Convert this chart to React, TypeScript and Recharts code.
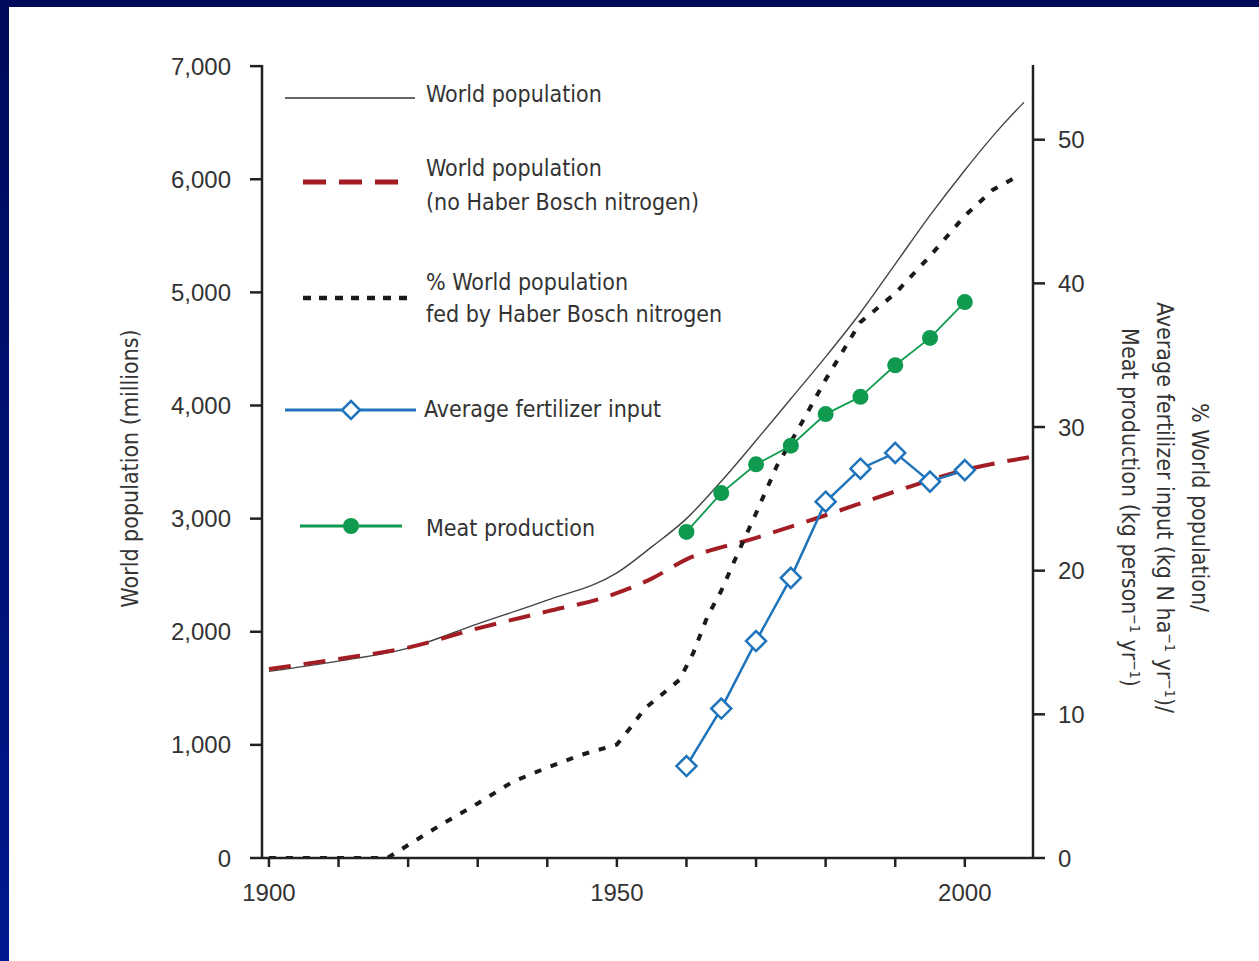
import React from "react";
import { Legend, Line, LineChart, XAxis, YAxis } from "recharts";

// world population, millions (left axis)
const popYears = [1900, 1910, 1920, 1930, 1940, 1950, 1955, 1960, 1965, 1970, 1975, 1980, 1985, 1990, 1995, 2000, 2005, 2008.5];
const popValues = [1650, 1740, 1855, 2070, 2280, 2520, 2750, 3000, 3330, 3690, 4060, 4430, 4820, 5250, 5680, 6080, 6450, 6680];

// world population without Haber Bosch nitrogen, millions (left axis)
const noHbYears = [1900, 1910, 1920, 1930, 1940, 1948, 1955, 1960, 1970, 1980, 1990, 2000, 2009.5];
const noHbValues = [1670, 1760, 1860, 2030, 2180, 2300, 2470, 2640, 2830, 3030, 3240, 3430, 3545];

// % world population fed by Haber Bosch nitrogen (right axis)
const fedYears = [1900, 1917, 1920, 1925, 1930, 1935, 1940, 1945, 1950, 1952, 1954, 1956, 1959, 1961, 1963, 1965, 1967, 1970, 1973, 1976, 1980, 1985, 1990, 1995, 2000, 2004, 2007];
const fedValues = [0, 0, 0.9, 2.4, 3.8, 5.3, 6.3, 7.2, 7.9, 9.1, 10.4, 11.2, 12.4, 14.3, 16.8, 18.6, 20.8, 24.0, 27.3, 29.8, 33.3, 37.3, 39.3, 41.9, 44.7, 46.5, 47.3];

// average fertilizer input, kg N / ha / yr (right axis)
const fertYears = [1960, 1965, 1970, 1975, 1980, 1985, 1990, 1995, 2000];
const fertValues = [6.4, 10.4, 15.1, 19.5, 24.8, 27.1, 28.2, 26.2, 27.0];

// meat production, kg / person / yr (right axis)
const meatYears = [1960, 1965, 1970, 1975, 1980, 1985, 1990, 1995, 2000];
const meatValues = [22.7, 25.4, 27.4, 28.7, 30.9, 32.1, 34.3, 36.2, 38.7];

const xTicks = [1900, 1910, 1920, 1930, 1940, 1950, 1960, 1970, 1980, 1990, 2000];
const leftTicks = [0, 1000, 2000, 3000, 4000, 5000, 6000, 7000];
const rightTicks = [0, 10, 20, 30, 40, 50];

const toRows = (years: number[], values: number[]) =>
  years.map((year, i) => ({ year, v: values[i] }));

const TICK_FONT = "'Liberation Sans', Arial, Helvetica, sans-serif";
const TEXT_FONT = "'DejaVu Sans Condensed', 'Liberation Sans', sans-serif";
const TEXT_SIZE = 23;
const INK = "#333";
const AXIS = "#222";
const RED = "#a31d25";
const BLUE = "#1f74bb";
const GREEN = "#0f9a50";

const Diamond = (props: any) => {
  const { cx, cy } = props;
  if (cx == null || cy == null) return null;
  const r = 10;
  return (
    <path
      d={`M${cx},${cy - r}L${cx + r},${cy}L${cx},${cy + r}L${cx - r},${cy}Z`}
      fill="#fff"
      stroke={BLUE}
      strokeWidth={2.5}
    />
  );
};

const LeftTitle = (props: any) => {
  const vb = props.viewBox || {};
  const cx = vb.x + 28;
  const cy = vb.y + vb.height / 2 + 7;
  return (
    <text
      x={cx}
      y={cy}
      dy="0.35em"
      textAnchor="middle"
      transform={`rotate(-90 ${cx} ${cy})`}
      fontFamily={TEXT_FONT}
      fontSize={TEXT_SIZE}
      fill={INK}
    >
      World population (millions)
    </text>
  );
};

const RightTitle = (props: any) => {
  const vb = props.viewBox || {};
  const cx = vb.x + 132;
  const cy = vb.y + vb.height / 2 + 46;
  const common = {
    x: cx,
    dy: "0.35em",
    textAnchor: "middle" as const,
    transform: `rotate(90 ${cx} ${cy})`,
    fontFamily: TEXT_FONT,
    fontSize: TEXT_SIZE,
    fill: INK,
  };
  return (
    <g>
      <text {...common} y={cy - 35}>% World population/</text>
      <text {...common} y={cy}>
        <tspan>Average fertilizer input (kg N ha</tspan>
        <tspan dy={-8} fontSize={14}>−1</tspan>
        <tspan dy={8}> yr</tspan>
        <tspan dy={-8} fontSize={14}>−1</tspan>
        <tspan dy={8}>)/</tspan>
      </text>
      <text {...common} y={cy + 35}>
        <tspan>Meat production (kg person</tspan>
        <tspan dy={-8} fontSize={14}>−1</tspan>
        <tspan dy={8}> yr</tspan>
        <tspan dy={-8} fontSize={14}>−1</tspan>
        <tspan dy={8}>)</tspan>
      </text>
    </g>
  );
};

const LegendBox = () => {
  const t = { fontFamily: TEXT_FONT, fontSize: TEXT_SIZE, fill: INK, dy: "0.35em" };
  return (
    <svg width={480} height={490} style={{ overflow: "visible" }}>
      <line x1={15} x2={145} y1={28} y2={28} stroke="#333" strokeWidth={1.6} />
      <text x={156} y={24} {...t}>World population</text>

      <line x1={33} x2={130} y1={112} y2={112} stroke={RED} strokeWidth={5} strokeDasharray="23 13" />
      <text x={156} y={98} {...t}>World population</text>
      <text x={156} y={132} {...t}>(no Haber Bosch nitrogen)</text>

      <line x1={33} x2={139} y1={228} y2={228} stroke="#1a1a1a" strokeWidth={4.5} strokeDasharray="8 8" />
      <text x={156} y={212} {...t}>% World population</text>
      <text x={156} y={244} {...t}>fed by Haber Bosch nitrogen</text>

      <line x1={15} x2={146} y1={340} y2={340} stroke={BLUE} strokeWidth={3} />
      <path d="M81,331L90,340L81,349L72,340Z" fill="#fff" stroke={BLUE} strokeWidth={2.5} />
      <text x={154} y={339} {...t}>Average fertilizer input</text>

      <line x1={30} x2={132} y1={456} y2={456} stroke={GREEN} strokeWidth={3} />
      <circle cx={81} cy={456} r={8} fill={GREEN} />
      <text x={156} y={458} {...t}>Meat production</text>
    </svg>
  );
};

const App = () => {
  const tickStyle = { fontFamily: TICK_FONT, fontSize: 24, fill: INK };
  return (
    <div style={{ position: "absolute", left: 0, top: 0, width: 1259, height: 961, background: "#fff", overflow: "hidden" }}>
      <div style={{ position: "absolute", left: 0, top: 0, width: 1259, height: 7, background: "#000a5a" }} />
      <div
        style={{
          position: "absolute",
          left: 0,
          top: 0,
          width: 9,
          height: 961,
          background: "linear-gradient(#000a5a, #00188e)",
        }}
      />
      <LineChart width={1259} height={961} margin={{ top: 65, right: 36, bottom: 53, left: 102 }}>
        <XAxis
          dataKey="year"
          type="number"
          domain={[1899, 2009.8]}
          allowDataOverflow
          ticks={xTicks}
          tickFormatter={(y: number) => (y % 50 === 0 ? String(y) : "")}
          height={50}
          tickSize={9}
          tickMargin={17}
          tick={tickStyle}
          axisLine={{ stroke: AXIS, strokeWidth: 2.5 }}
          tickLine={{ stroke: AXIS, strokeWidth: 2.5 }}
        />
        <XAxis
          xAxisId="top"
          orientation="top"
          dataKey="year"
          type="number"
          domain={[1899, 2009.8]}
          height={0}
          tick={false}
          tickLine={false}
          axisLine={{ stroke: AXIS, strokeWidth: 2.5 }}
        />
        <YAxis
          yAxisId="left"
          domain={[0, 7010]}
          allowDataOverflow
          ticks={leftTicks}
          tickFormatter={(v: number) => v.toLocaleString("en-US")}
          width={160}
          tickSize={12}
          tickMargin={19}
          tick={tickStyle}
          axisLine={{ stroke: AXIS, strokeWidth: 2.5 }}
          tickLine={{ stroke: AXIS, strokeWidth: 2.5 }}
          label={<LeftTitle />}
        />
        <YAxis
          yAxisId="right"
          orientation="right"
          domain={[0, 55.2]}
          allowDataOverflow
          ticks={rightTicks}
          width={190}
          tickSize={12}
          tickMargin={13}
          tick={{ ...tickStyle, textAnchor: "start" }}
          axisLine={{ stroke: AXIS, strokeWidth: 2.5 }}
          tickLine={{ stroke: AXIS, strokeWidth: 2.5 }}
          label={<RightTitle />}
        />
        <Legend
          layout="vertical"
          align="center"
          verticalAlign="middle"
          content={() => <LegendBox />}
          wrapperStyle={{ left: 270, top: 70, width: 480, height: 490 }}
        />
        <Line
          yAxisId="left"
          data={toRows(popYears, popValues)}
          dataKey="v"
          type="monotone"
          stroke="#444"
          strokeWidth={1.4}
          dot={false}
          isAnimationActive={false}
        />
        <Line
          yAxisId="left"
          data={toRows(noHbYears, noHbValues)}
          dataKey="v"
          type="monotone"
          stroke={RED}
          strokeWidth={4}
          strokeDasharray="22 13"
          dot={false}
          isAnimationActive={false}
        />
        <Line
          yAxisId="right"
          data={toRows(fedYears, fedValues)}
          dataKey="v"
          type="linear"
          stroke="#1a1a1a"
          strokeWidth={4}
          strokeDasharray="7 10"
          dot={false}
          isAnimationActive={false}
        />
        <Line
          yAxisId="right"
          data={toRows(fertYears, fertValues)}
          dataKey="v"
          type="linear"
          stroke={BLUE}
          strokeWidth={2.5}
          dot={<Diamond />}
          isAnimationActive={false}
        />
        <Line
          yAxisId="right"
          data={toRows(meatYears, meatValues)}
          dataKey="v"
          type="linear"
          stroke={GREEN}
          strokeWidth={1.8}
          dot={{ r: 8, fill: GREEN, stroke: GREEN, strokeWidth: 0 }}
          isAnimationActive={false}
        />
      </LineChart>
    </div>
  );
};

export default App;
